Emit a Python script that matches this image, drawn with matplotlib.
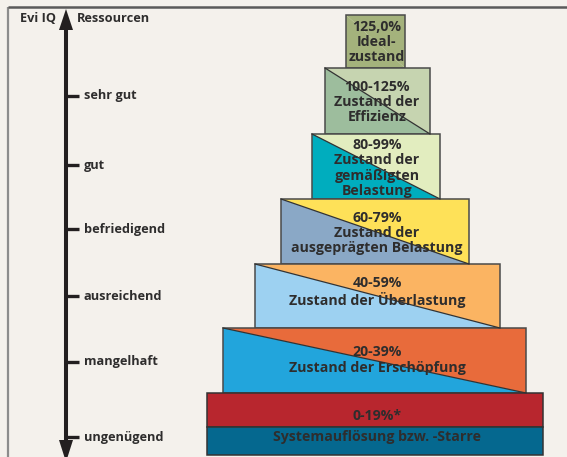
import matplotlib
matplotlib.use("Agg")
import matplotlib.pyplot as plt
from matplotlib.patches import Polygon, Rectangle

# --- content -------------------------------------------------------------
scale_labels = ["sehr gut", "gut", "befriedigend", "ausreichend", "mangelhaft", "ungenügend"]

level_texts = [
    "125,0%\nIdeal-\nzustand",
    "100-125%\nZustand der\nEffizienz",
    "80-99%\nZustand der\ngemäßigten\nBelastung",
    "60-79%\nZustand der\nausgeprägten Belastung",
    "40-59%\nZustand der Überlastung",
    "20-39%\nZustand der Erschöpfung",
]
# lower-left / upper-right colour of each pyramid step (top step is plain)
level_low = ["#a4b27c", "#9dbd9d", "#00adbe", "#8aa8c6", "#9dd1f1", "#22a5dc"]
level_high = ["#a4b27c", "#c6d4b0", "#e2edbf", "#fee158", "#fbb462", "#e86b3b"]

base_top_text = "0-19%*"
base_bottom_text = "Systemauflösung bzw. -Starre"
base_colors = ["#b8262e", "#05688f"]

# --- layout (pixel space of the 567x457 picture) --------------------------
W, H = 567, 457
lefts = [346, 325, 312, 281, 255, 223]
rights = [405, 430, 440, 469, 500, 526]
edges = [15, 68, 134, 199, 264, 328, 393]
text_y = [42, 102, 168, 233, 292, 360]
tick_y = [96, 165, 229, 296, 362, 437]
axis_x = 66
text_x = 377

bg = "#f4f1ec"
ink = "#2e2d2d"
font = ["Open Sans", "DejaVu Sans"]
wt = "bold"

fig = plt.figure(figsize=(W / 100, H / 100), dpi=100, facecolor=bg)
ax = fig.add_axes([0, 0, 1, 1])
ax.set_xlim(0, W)
ax.set_ylim(H, 0)
ax.axis("off")
ax.set_facecolor(bg)

# frame
ax.plot([8, 8], [7, H], color="#8c8c8c", lw=1.6, solid_capstyle="butt")
ax.plot([8, W], [7, 7], color="#5a5a5a", lw=1.8, solid_capstyle="butt")

# pyramid steps
for i, txt in enumerate(level_texts):
    x0, x1 = lefts[i], rights[i]
    y0, y1 = edges[i], edges[i + 1]
    ax.add_patch(Polygon([(x0, y0), (x1, y0), (x1, y1)], closed=True,
                         facecolor=level_high[i], edgecolor="none"))
    ax.add_patch(Polygon([(x0, y0), (x1, y1), (x0, y1)], closed=True,
                         facecolor=level_low[i], edgecolor="none"))
    if i > 0:
        ax.plot([x0, x1], [y0, y1], color="#333333", lw=0.9)
    ax.add_patch(Rectangle((x0, y0), x1 - x0, y1 - y0, facecolor="none",
                           edgecolor="#4a4a4a", lw=1.1))
    ax.text(text_x, text_y[i], txt, ha="center", va="center", color=ink,
            fontsize=10.2, fontweight=wt, family=font, linespacing=1.12)

# base blocks
bx0, bx1 = 207, 543
ax.add_patch(Rectangle((bx0, 393), bx1 - bx0, 34, facecolor=base_colors[0],
                       edgecolor="#333333", lw=1.1))
ax.add_patch(Rectangle((bx0, 427), bx1 - bx0, 28, facecolor=base_colors[1],
                       edgecolor="#333333", lw=1.1))
ax.text(text_x, 416, base_top_text, ha="center", va="center", color=ink,
        fontsize=10.2, fontweight=wt, family=font)
ax.text(text_x, 437, base_bottom_text, ha="center", va="center", color=ink,
        fontsize=10.2, fontweight=wt, family=font)

# vertical scale arrow
ax.plot([axis_x, axis_x], [25, 445], color="#231f20", lw=2.9, solid_capstyle="butt")
ax.fill([axis_x - 7, axis_x, axis_x + 7], [30, 9, 30], color="#231f20", lw=0)
ax.fill([axis_x - 7, axis_x, axis_x + 7], [440, 462, 440], color="#231f20", lw=0)
for y, lab in zip(tick_y, scale_labels):
    ax.plot([axis_x, axis_x + 13], [y, y], color="#231f20", lw=2.4, solid_capstyle="butt")
    ax.text(axis_x + 18, y, lab, ha="left", va="center", color=ink,
            fontsize=9.2, fontweight=wt, family=font)

ax.text(20, 19, "Evi IQ", ha="left", va="center", color=ink,
        fontsize=9.2, fontweight=wt, family=font)
ax.text(77, 19, "Ressourcen", ha="left", va="center", color=ink,
        fontsize=9.2, fontweight=wt, family=font)

fig.savefig("out.png", dpi=100, facecolor=bg)
